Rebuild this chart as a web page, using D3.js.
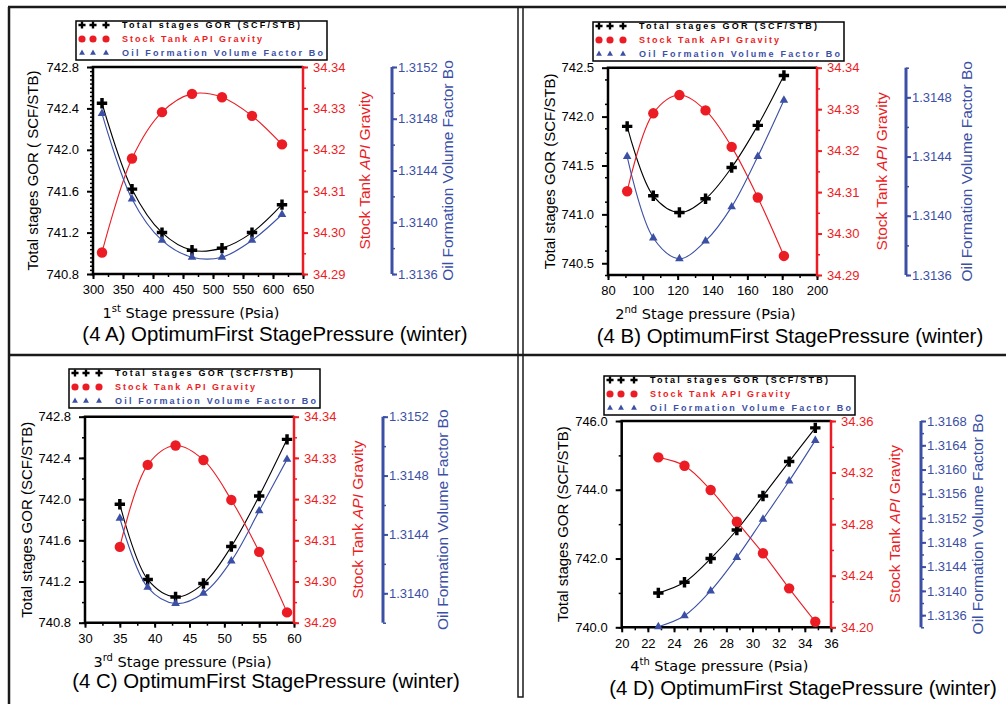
<!DOCTYPE html>
<html>
<head>
<meta charset="utf-8">
<title>Optimum stage pressure (winter)</title>
<script src="https://cdn.jsdelivr.net/npm/d3@7"></script>
<style>
  body { margin: 0; background: #fff; }
  text { font-family: "Liberation Sans", Arial, sans-serif; }
</style>
</head>
<body>
<div id="chart"></div>
<script>
// ---- data ----
var xA = [315, 365, 415, 465, 515, 565, 615];
var gorA = [742.45, 741.62, 741.20, 741.03, 741.05, 741.20, 741.47];
var apiA = [34.2952, 34.3179, 34.3291, 34.3335, 34.3327, 34.3282, 34.3213];
var boA = [1.31484, 1.31418, 1.31386, 1.31373, 1.31373, 1.31386, 1.31406];

var xB = [91, 106, 121, 136, 151, 166, 181];
var gorB = [741.90, 741.19, 741.02, 741.16, 741.48, 741.91, 742.42];
var apiB = [34.3102, 34.3290, 34.3334, 34.3297, 34.3209, 34.3087, 34.2946];
var boB = [1.31440, 1.31385, 1.31371, 1.31383, 1.31406, 1.31440, 1.31478];

var xC = [35, 39, 43, 47, 51, 55, 59];
var gorC = [741.95, 741.22, 741.05, 741.18, 741.54, 742.03, 742.58];
var apiC = [34.3084, 34.3283, 34.3330, 34.3295, 34.3198, 34.3072, 34.2925];
var boC = [1.31451, 1.31404, 1.31393, 1.31400, 1.31422, 1.31456, 1.31491];

var xD = [22.8, 24.8, 26.8, 28.8, 30.8, 32.8, 34.8];
var gorD = [741.00, 741.31, 742.00, 742.83, 743.82, 744.82, 745.80];
var apiD = [34.3318, 34.3253, 34.3065, 34.2819, 34.2574, 34.2302, 34.2043];
var boD = [1.31341, 1.31359, 1.31400, 1.31455, 1.31518, 1.31581, 1.31648];

// tick labels
var xTicksA = [300, 350, 400, 450, 500, 550, 600, 650];
var xTicksB = [80, 100, 120, 140, 160, 180, 200];
var xTicksC = [30, 35, 40, 45, 50, 55, 60];
var xTicksD = [20, 22, 24, 26, 28, 30, 32, 34, 36];
var gorTicksAC = [740.8, 741.2, 741.6, 742.0, 742.4, 742.8];
var gorTicksB = [740.5, 741.0, 741.5, 742.0, 742.5];
var gorTicksD = [740.0, 742.0, 744.0, 746.0];
var apiTicksABC = [34.29, 34.30, 34.31, 34.32, 34.33, 34.34];
var apiTicksD = [34.20, 34.24, 34.28, 34.32, 34.36];
var boTicksA = [1.3136, 1.3140, 1.3144, 1.3148, 1.3152];
var boTicksB = [1.3136, 1.3140, 1.3144, 1.3148];
var boTicksC = [1.3140, 1.3144, 1.3148, 1.3152];
var boTicksD = [1.3136, 1.3140, 1.3144, 1.3148, 1.3152, 1.3156, 1.3160, 1.3164, 1.3168];

var legendNames = ["Total stages GOR (SCF/STB)", "Stock Tank API Gravity", "Oil Formation Volume Factor Bo"];

var RED = "#ec1c24", BLUE = "#3b4fa5";

var svg = d3.select("#chart").append("svg").attr("width", 1006).attr("height", 704);

// outer frame of the figure
var frame = svg.append("g").attr("stroke", "#1a1a1a").attr("fill", "none");
frame.append("line").attr("x1", 8).attr("x2", 1006).attr("y1", 7).attr("y2", 7).attr("stroke-width", 2.5);
frame.append("line").attr("x1", 9).attr("x2", 9).attr("y1", 7).attr("y2", 704).attr("stroke-width", 2.5);
frame.append("line").attr("x1", 9).attr("x2", 1006).attr("y1", 355).attr("y2", 355).attr("stroke-width", 2.5);
frame.append("path").attr("d", "M518,7V697H523V7").attr("stroke-width", 1.5);

function minor(a, b, step) {
  var n = Math.round((b - a) / step);
  return d3.range(n + 1).map(function(i) { return +(a + i * step).toFixed(6); });
}

var panels = [
  { xs: xA, gor: gorA, api: apiA, bo: boA, x0: 93, x1: 303, y0: 67, y1: 274, bx: 392,
    xDom: [300, 650], xT: xTicksA, xMin: 25, gDom: [740.8, 742.8], gT: gorTicksAC, gMin: 0.04,
    aDom: [34.29, 34.34], aT: apiTicksABC, aMin: 0.005, bDom: [1.3136, 1.3152], bT: boTicksA, bMin: 0.0002,
    gLabel: "Total stages GOR ( SCF/STB)", sup: ["1", "st"], title: "(4 A) OptimumFirst StagePressure (winter)",
    lx: 76, ly: 21, gx: 33, rx: 365, bxl: 448, tcx: 275, tcy: 341 },
  { xs: xB, gor: gorB, api: apiB, bo: boB, x0: 608, x1: 817, y0: 67.7, y1: 275, bx: 906,
    xDom: [80, 200], xT: xTicksB, xMin: 10, gDom: [740.38, 742.5], gT: gorTicksB, gMin: 0.25,
    aDom: [34.29, 34.34], aT: apiTicksABC, aMin: 0.005, bDom: [1.3136, 1.3150], bT: boTicksB, bMin: 0.0002,
    gLabel: "Total stages GOR (SCF/STB)", sup: ["2", "nd"], title: "(4 B) OptimumFirst StagePressure (winter)",
    lx: 593, ly: 22, gx: 550, rx: 882, bxl: 967, tcx: 790, tcy: 343 },
  { xs: xC, gor: gorC, api: apiC, bo: boC, x0: 85, x1: 294, y0: 416.7, y1: 622.7, bx: 383,
    xDom: [30, 60], xT: xTicksC, xMin: 2.5, gDom: [740.8, 742.8], gT: gorTicksAC, gMin: 0.2,
    aDom: [34.29, 34.34], aT: apiTicksABC, aMin: 0.005, bDom: [1.3138, 1.3152], bT: boTicksC, bMin: 0.0002,
    gLabel: "Total stages GOR (SCF/STB)", sup: ["3", "rd"], title: "(4 C) OptimumFirst StagePressure (winter)",
    lx: 69, ly: 369, gx: 27, rx: 358, bxl: 443, tcx: 266, tcy: 688 },
  { xs: xD, gor: gorD, api: apiD, bo: boD, x0: 621.7, x1: 831, y0: 421, y1: 627.3, bx: 921,
    xDom: [20, 36], xT: xTicksD, xMin: 1, gDom: [740, 746], gT: gorTicksD, gMin: 1,
    aDom: [34.20, 34.36], aT: apiTicksD, aMin: 0.02, bDom: [1.3134, 1.3168], bT: boTicksD, bMin: 0.0002,
    gLabel: "Total stages GOR (SCF/STB)", sup: ["4", "th"], title: "(4 D) OptimumFirst StagePressure (winter)",
    lx: 604, ly: 376, gx: 563, rx: 895, bxl: 978, tcx: 803, tcy: 695 }
];

var cross = d3.symbol().type(d3.symbolCross);
var circ = d3.symbol().type(d3.symbolCircle);
var tri = d3.symbol().type(d3.symbolTriangle);

function styleAxis(sel, color, width) {
  sel.select(".domain").remove();
  sel.selectAll(".tick line").attr("stroke", color).attr("stroke-width", width);
  sel.selectAll(".tick text").attr("fill", color).style("font-size", "13px");
}

panels.forEach(function(p) {
  var g = svg.append("g");
  var x = d3.scaleLinear().domain(p.xDom).range([p.x0, p.x1]);
  var yL = d3.scaleLinear().domain(p.gDom).range([p.y1, p.y0]);
  var yR = d3.scaleLinear().domain(p.aDom).range([p.y1, p.y0]);
  var yB = d3.scaleLinear().domain(p.bDom).range([p.y1, p.y0]);

  // bottom axis
  g.append("g").attr("transform", "translate(0," + p.y1 + ")")
    .call(d3.axisBottom(x).tickValues(minor(p.xDom[0], p.xDom[1], p.xMin)).tickSize(3).tickFormat(""))
    .call(styleAxis, "#000", 1.5);
  g.append("g").attr("transform", "translate(0," + p.y1 + ")")
    .call(d3.axisBottom(x).tickValues(p.xT).tickSize(5).tickPadding(6).tickFormat(d3.format("d")))
    .call(styleAxis, "#000", 2);

  // left axis
  g.append("g").attr("transform", "translate(" + p.x0 + ",0)")
    .call(d3.axisLeft(yL).tickValues(minor(p.gDom[0], p.gDom[1], p.gMin)).tickSize(3).tickFormat(""))
    .call(styleAxis, "#000", 1.5);
  g.append("g").attr("transform", "translate(" + p.x0 + ",0)")
    .call(d3.axisLeft(yL).tickValues(p.gT).tickSize(6).tickPadding(8).tickFormat(d3.format(".1f")))
    .call(styleAxis, "#000", 2);

  // red axis
  g.append("g").attr("transform", "translate(" + p.x1 + ",0)")
    .call(d3.axisRight(yR).tickValues(minor(p.aDom[0], p.aDom[1], p.aMin)).tickSize(3).tickFormat(""))
    .call(styleAxis, RED, 1.5);
  g.append("g").attr("transform", "translate(" + p.x1 + ",0)")
    .call(d3.axisRight(yR).tickValues(p.aT).tickSize(5).tickPadding(5).tickFormat(d3.format(".2f")))
    .call(styleAxis, RED, 2);

  // blue axis
  g.append("g").attr("transform", "translate(" + p.bx + ",0)")
    .call(d3.axisRight(yB).tickValues(minor(p.bDom[0], p.bDom[1], p.bMin)).tickSize(3).tickFormat(""))
    .call(styleAxis, BLUE, 1.5);
  g.append("g").attr("transform", "translate(" + p.bx + ",0)")
    .call(d3.axisRight(yB).tickValues(p.bT).tickSize(5).tickPadding(1).tickFormat(d3.format(".4f")))
    .call(styleAxis, BLUE, 2);

  // plot frame
  g.append("path").attr("d", "M" + p.x1 + "," + p.y0 + "H" + p.x0 + "V" + p.y1 + "H" + p.x1)
    .attr("fill", "none").attr("stroke", "#000").attr("stroke-width", 2.5);
  g.append("line").attr("x1", p.x1).attr("x2", p.x1).attr("y1", p.y0 - 1).attr("y2", p.y1 + 1)
    .attr("stroke", RED).attr("stroke-width", 2.5);
  g.append("line").attr("x1", p.bx).attr("x2", p.bx).attr("y1", p.y0).attr("y2", p.y1)
    .attr("stroke", BLUE).attr("stroke-width", 3);

  // series
  var series = [
    { vals: p.gor, y: yL, color: "#000", sym: cross, size: 60 },
    { vals: p.api, y: yR, color: RED, sym: circ, size: 85 },
    { vals: p.bo, y: yB, color: BLUE, sym: tri, size: 32 }
  ];
  series.forEach(function(s) {
    var line = d3.line().curve(d3.curveCatmullRom.alpha(0.5))
      .x(function(d, i) { return x(p.xs[i]); })
      .y(function(d) { return s.y(d); });
    g.append("path").datum(s.vals).attr("d", line)
      .attr("fill", "none").attr("stroke", s.color).attr("stroke-width", 1.1);
    g.selectAll(null).data(s.vals).enter().append("path")
      .attr("d", s.sym.size(s.size))
      .attr("transform", function(d, i) { return "translate(" + x(p.xs[i]) + "," + s.y(d) + ")"; })
      .attr("fill", s.color);
  });

  // axis titles
  var cy = (p.y0 + p.y1) / 2;
  g.append("text").attr("transform", "translate(" + p.gx + "," + cy + ") rotate(-90)")
    .attr("text-anchor", "middle").attr("dy", "0.35em").style("font-size", "15px")
    .text(p.gLabel);
  var rt = g.append("text").attr("transform", "translate(" + p.rx + "," + cy + ") rotate(-90)")
    .attr("text-anchor", "middle").attr("dy", "0.35em").style("font-size", "15.5px").attr("fill", RED);
  rt.append("tspan").text("Stock Tank ");
  rt.append("tspan").attr("font-style", "italic").text("API");
  rt.append("tspan").text(" Gravity");
  g.append("text").attr("transform", "translate(" + p.bxl + "," + cy + ") rotate(-90)")
    .attr("text-anchor", "middle").attr("dy", "0.35em").style("font-size", "15.5px").attr("fill", BLUE)
    .text("Oil Formation Volume Factor Bo");

  var xl = g.append("text").attr("x", (p.x0 + p.x1) / 2 - 7).attr("y", p.y1 + 44)
    .attr("text-anchor", "middle").style("font-family", "'DejaVu Sans', sans-serif").style("font-size", "14.5px");
  xl.append("tspan").text(p.sup[0]);
  xl.append("tspan").attr("dy", -6).style("font-size", "10px").text(p.sup[1]);
  xl.append("tspan").attr("dy", 6).text(" Stage pressure (Psia)");

  g.append("text").attr("x", p.tcx).attr("y", p.tcy).attr("text-anchor", "middle")
    .style("font-size", "20.4px").text(p.title);

  // legend
  var lg = g.append("g").attr("transform", "translate(" + p.lx + "," + p.ly + ")");
  var lsyms = [cross.size(28), circ.size(40), tri.size(15)];
  var lcols = ["#000", RED, BLUE];
  var lens = [178, 140, 201];
  legendNames.forEach(function(name, i) {
    var yy = 4 + i * 14;
    [6, 17, 30].forEach(function(mx) {
      lg.append("path").attr("d", lsyms[i]()).attr("transform", "translate(" + mx + "," + yy + ")")
        .attr("fill", lcols[i]);
    });
    lg.append("text").attr("x", 46).attr("y", yy).attr("dy", "0.35em")
      .attr("fill", lcols[i]).style("font-size", "9px").style("font-weight", "bold")
      .attr("textLength", lens[i]).attr("lengthAdjust", "spacing").text(name);
  });
  lg.append("rect").attr("width", 251).attr("height", 39)
    .attr("fill", "none").attr("stroke", "#000").attr("stroke-width", 1.5);
});
</script>
</body>
</html>
